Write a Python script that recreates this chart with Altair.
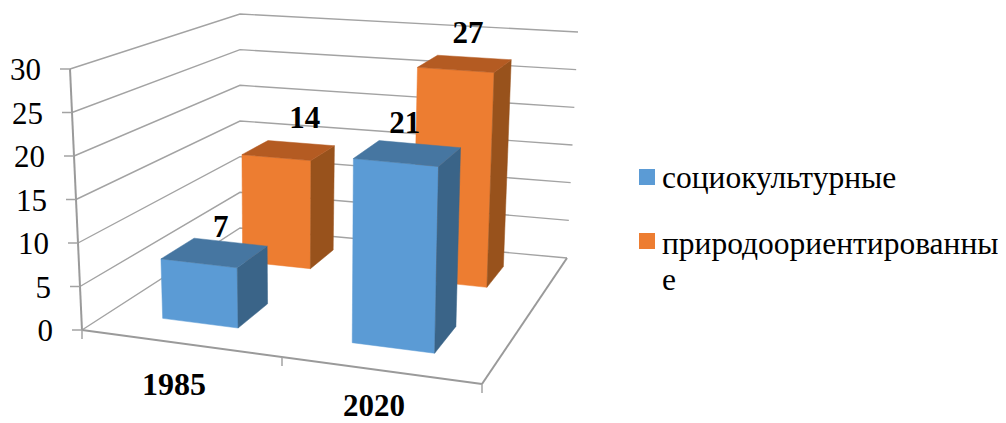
import altair as alt
import pandas as pd

years = ["1985", "2020"]
series = ["социокультурные", "природоориентированные"]
socio = [7, 21]
nature = [14, 27]
ticks = [0, 5, 10, 15, 20, 25, 30]
front_colors = ["#5b9bd5", "#ed7d31"]
top_colors = ["#4676a1", "#b45b22"]
side_colors = ["#3a6488", "#98521c"]

# Projection of the 3D box (u: categories, v: depth, w: value) onto the page
CORNERS = {
    (0, 0, 0): (82, 330), (1, 0, 0): (482, 384), (1, 1, 0): (567, 258), (0, 1, 0): (240, 228),
    (0, 0, 1): (70, 69), (1, 0, 1): (490, 105), (1, 1, 1): (578, 32), (0, 1, 1): (240, 14),
}
WMAX = 30.0
U_SPANS = [(0.135, 0.33), (0.625, 0.838)]
V_SPANS = [(0.18, 0.40), (0.72, 0.89)]


def proj(u, v, w):
    t = w / WMAX
    px = py = 0.0
    for (a, b, c), (x, y) in CORNERS.items():
        k = (u if a else 1 - u) * (v if b else 1 - v) * (t if c else 1 - t)
        px += k * x
        py += k * y
    return px, py


def path_rows(rows, name, pts, **kw):
    for i, p in enumerate(pts):
        x, y = proj(*p)
        rows.append(dict(face=name, i=i, x=x, y=y, **kw))


WIDTH, HEIGHT = 990, 415
X = alt.X("x:Q", scale=alt.Scale(domain=[8, 8 + WIDTH], nice=False, zero=False), axis=None)
Y = alt.Y("y:Q", scale=alt.Scale(domain=[8 + HEIGHT, 8], nice=False, zero=False), axis=None)


def base(df):
    return alt.Chart(pd.DataFrame(df))


# grid lines
grid = []
for w in ticks:
    path_rows(grid, f"g{w}", [(0, 0, w), (0, 1, w), (1, 1, w)])
grid_layer = base(grid).mark_line(color="#a3a3a3", strokeWidth=1.4).encode(
    x=X, y=Y, detail="face:N", order="i:Q")

# axis lines
axes = []
path_rows(axes, "yaxis", [(0, 0, 0), (0, 0, 30)])
path_rows(axes, "xaxis", [(0, 0, 0), (1, 0, 0)])
path_rows(axes, "depth", [(1, 0, 0), (1, 1, 0)])
axes_layer = base(axes).mark_line(color="#9a9a9a", strokeWidth=2).encode(
    x=X, y=Y, detail="face:N", order="i:Q")

# tick marks
tick_rows = []
for w in ticks:
    x, y = proj(0, 0, w)
    tick_rows.append(dict(x=x, y=y, x2=x - 10, y2=y))
for u in (0, 0.5, 1):
    x, y = proj(u, 0, 0)
    tick_rows.append(dict(x=x, y=y, x2=x, y2=y + 9))
tick_layer = base(tick_rows).mark_rule(color="#a3a3a3", strokeWidth=1.5).encode(
    x=X, y=Y, x2="x2:Q", y2="y2:Q")

# bars
faces = []
for s, vals in ((1, nature), (0, socio)):
    v0, v1 = V_SPANS[s]
    for c, val in enumerate(vals):
        u0, u1 = U_SPANS[c]
        fid = f"{s}{c}"
        path_rows(faces, fid + "f", [(u0, v0, 0), (u1, v0, 0), (u1, v0, val), (u0, v0, val), (u0, v0, 0)],
                  col=front_colors[s])
        path_rows(faces, fid + "s", [(u1, v0, 0), (u1, v1, 0), (u1, v1, val), (u1, v0, val), (u1, v0, 0)],
                  col=side_colors[s])
        path_rows(faces, fid + "t", [(u0, v0, val), (u1, v0, val), (u1, v1, val), (u0, v1, val), (u0, v0, val)],
                  col=top_colors[s])

bar_layers = []
seen = []
for f in faces:
    if f["face"] not in seen:
        seen.append(f["face"])
for fid in seen:
    sub = [f for f in faces if f["face"] == fid]
    bar_layers.append(
        base(sub).mark_line(fill=sub[0]["col"], stroke=sub[0]["col"], strokeWidth=0.5).encode(
            x=X, y=Y, order="i:Q"))

SERIF = "Liberation Serif"

# y tick labels
ylab = []
for w in ticks:
    x, y = proj(0, 0, w)
    ylab.append(dict(x=x, y=y, t=str(w)))
ylab_layer = base(ylab).mark_text(font=SERIF, fontSize=31, align="right", baseline="middle",
                                  dx=-29, dy=2, color="#000000").encode(x=X, y=Y, text="t:N")

# category labels
cat_dy = [41, 36]
cat_size = [32, 31]
clab_layers = []
for name, u, dy, fs in zip(years, (0.25, 0.75), cat_dy, cat_size):
    x, y = proj(u, 0, 0)
    clab_layers.append(
        base([dict(x=x, y=y, t=name)]).mark_text(
            font=SERIF, fontSize=fs, fontWeight="bold", align="center",
            baseline="middle", dx=-8, dy=dy, color="#000000").encode(x=X, y=Y, text="t:N"))

# value labels
label_off = {(0, 0): (6, -25), (1, 0): (16, -31), (0, 1): (-3, -29), (1, 1): (3, -30)}
val_layers = []
for s, vals in enumerate((socio, nature)):
    v0, v1 = V_SPANS[s]
    for c, val in enumerate(vals):
        u0, u1 = U_SPANS[c]
        x, y = proj((u0 + u1) / 2, (v0 + v1) / 2, val)
        dx, dy = label_off[(s, c)]
        val_layers.append(
            base([dict(x=x, y=y, t=str(val))]).mark_text(
                font=SERIF, fontSize=31, fontWeight="bold", align="center", baseline="middle",
                dx=dx, dy=dy, color="#000000").encode(x=X, y=Y, text="t:N"))

# legend
LEG_X = 647
leg_sq = [dict(x=LEG_X, y=177, c=front_colors[0]), dict(x=LEG_X, y=241, c=front_colors[1])]
leg_sq_layer = base(leg_sq).mark_square(size=256, opacity=1, filled=True).encode(
    x=X, y=Y, color=alt.Color("c:N", scale=None, legend=None))
leg_txt = [
    dict(x=662, y=179, t=series[0]),
    dict(x=662, y=245, t=series[1][:-1]),
    dict(x=662, y=281, t=series[1][-1:]),
]
leg_txt_layer = base(leg_txt).mark_text(font=SERIF, fontSize=31.5, align="left", baseline="middle",
                                        color="#000000").encode(x=X, y=Y, text="t:N")

chart = alt.layer(
    grid_layer, axes_layer, tick_layer, *bar_layers, ylab_layer, *clab_layers, *val_layers,
    leg_sq_layer, leg_txt_layer,
).properties(
    width=WIDTH, height=HEIGHT, padding=0, autosize=alt.AutoSizeParams(type="none"),
    background="#ffffff",
).configure_view(stroke=None)

chart.save("out.html", embed_options={"renderer": "svg", "actions": False})
